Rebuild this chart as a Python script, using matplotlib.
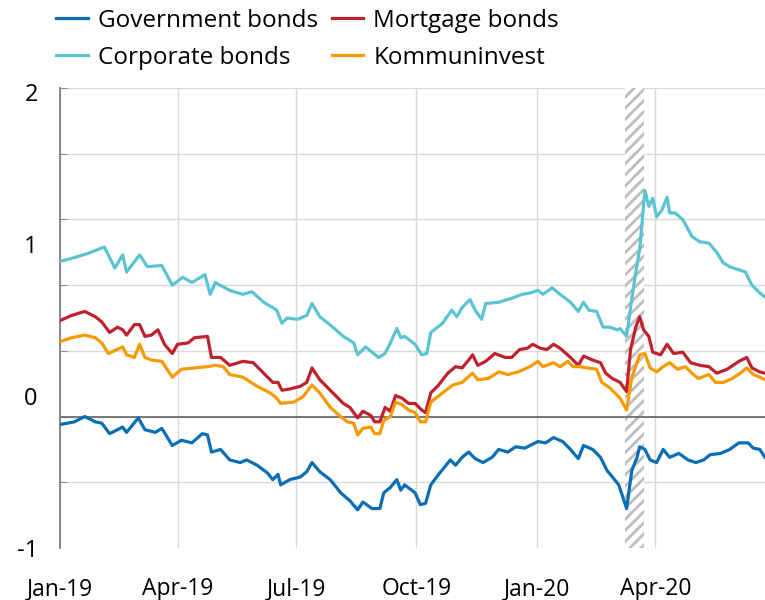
import matplotlib
matplotlib.use('Agg')
import matplotlib.pyplot as plt
import pandas as pd

START = pd.Timestamp('2019-01-01')

# days since 1 Jan 2019 and spread (percentage points)
gov_days = [0, 6, 11, 19, 27, 32, 38, 48, 51, 60, 65, 73, 78, 86, 93, 101, 109, 113, 116, 123,
            130, 138, 143, 151, 159, 163, 167, 169, 176, 184, 189, 193, 199, 207, 215, 222, 228,
            232, 239, 245, 248, 253, 258, 261, 264, 272, 276, 280, 284, 290, 299, 303, 308, 313,
            318, 324, 331, 336, 343, 349, 356, 360, 366, 372, 378, 385, 391, 397, 401, 408, 414,
            419, 424, 428, 431, 434, 438, 442, 444, 448, 452, 457, 462, 467, 474, 481, 487, 493,
            498, 506, 513, 520, 527, 531, 536, 540]
gov_vals = [-0.06, -0.05, -0.04, 0.00, -0.04, -0.05, -0.13, -0.08, -0.12, -0.01, -0.10, -0.12,
            -0.09, -0.22, -0.18, -0.20, -0.13, -0.14, -0.27, -0.25, -0.33, -0.35, -0.33, -0.37,
            -0.43, -0.48, -0.44, -0.52, -0.48, -0.46, -0.42, -0.35, -0.42, -0.48, -0.58, -0.64,
            -0.71, -0.65, -0.70, -0.70, -0.58, -0.54, -0.48, -0.56, -0.52, -0.58, -0.67, -0.66,
            -0.52, -0.44, -0.33, -0.37, -0.31, -0.27, -0.32, -0.35, -0.31, -0.25, -0.27, -0.23,
            -0.24, -0.22, -0.19, -0.20, -0.16, -0.19, -0.25, -0.32, -0.22, -0.25, -0.31, -0.41,
            -0.47, -0.52, -0.61, -0.70, -0.41, -0.31, -0.23, -0.25, -0.33, -0.35, -0.25, -0.31,
            -0.28, -0.33, -0.35, -0.33, -0.29, -0.28, -0.25, -0.20, -0.20, -0.24, -0.25, -0.31]

mort_days = [0, 9, 19, 27, 32, 38, 44, 48, 51, 57, 61, 65, 70, 75, 80, 86, 90, 98, 103, 113,
             116, 123, 130, 140, 148, 153, 159, 163, 167, 170, 176, 184, 189, 193, 199, 205, 212,
             217, 222, 228, 232, 238, 241, 245, 249, 253, 257, 262, 267, 272, 277, 280, 284, 290,
             297, 303, 308, 313, 316, 320, 326, 333, 341, 346, 352, 358, 362, 368, 373, 378, 383,
             391, 397, 401, 408, 414, 418, 423, 429, 434, 437, 441, 444, 447, 451, 454, 460, 465,
             470, 477, 483, 490, 497, 503, 511, 520, 526, 530, 536, 540]
mort_vals = [0.73, 0.77, 0.80, 0.76, 0.72, 0.64, 0.68, 0.66, 0.62, 0.70, 0.70, 0.61, 0.62, 0.66,
             0.55, 0.48, 0.55, 0.56, 0.60, 0.61, 0.45, 0.45, 0.39, 0.42, 0.41, 0.36, 0.30, 0.26,
             0.26, 0.20, 0.21, 0.23, 0.26, 0.37, 0.28, 0.22, 0.15, 0.10, 0.07, -0.01, 0.04, 0.01,
             -0.04, -0.04, 0.07, 0.04, 0.16, 0.14, 0.10, 0.10, 0.05, 0.03, 0.18, 0.24, 0.33, 0.38,
             0.37, 0.43, 0.47, 0.39, 0.42, 0.48, 0.45, 0.45, 0.51, 0.52, 0.55, 0.52, 0.51, 0.55,
             0.52, 0.45, 0.39, 0.46, 0.43, 0.41, 0.33, 0.29, 0.26, 0.19, 0.51, 0.68, 0.76, 0.66,
             0.61, 0.49, 0.47, 0.55, 0.48, 0.49, 0.41, 0.39, 0.38, 0.33, 0.36, 0.42, 0.45, 0.37,
             0.34, 0.33]

corp_days = [0, 11, 21, 34, 42, 48, 51, 61, 67, 78, 86, 94, 101, 111, 115, 119, 130, 140, 147,
             156, 166, 170, 174, 182, 189, 193, 199, 209, 217, 225, 228, 234, 244, 249, 254, 258,
             261, 264, 272, 277, 281, 284, 293, 300, 304, 308, 314, 318, 323, 326, 336, 346, 354,
             360, 366, 370, 377, 383, 391, 397, 401, 405, 411, 416, 421, 427, 429, 434, 437, 441,
             444, 448, 451, 454, 457, 461, 465, 467, 471, 477, 484, 490, 497, 503, 508, 513, 519,
             525, 530, 536, 540]
corp_vals = [1.18, 1.21, 1.24, 1.29, 1.13, 1.23, 1.10, 1.23, 1.14, 1.15, 1.00, 1.06, 1.02, 1.08,
             0.93, 1.02, 0.96, 0.93, 0.95, 0.87, 0.81, 0.71, 0.75, 0.74, 0.77, 0.86, 0.76, 0.68,
             0.61, 0.56, 0.47, 0.53, 0.45, 0.48, 0.58, 0.67, 0.60, 0.61, 0.55, 0.47, 0.48, 0.64,
             0.71, 0.81, 0.76, 0.83, 0.89, 0.81, 0.74, 0.86, 0.87, 0.90, 0.93, 0.94, 0.96, 0.93,
             0.98, 0.93, 0.87, 0.80, 0.87, 0.81, 0.80, 0.68, 0.68, 0.66, 0.67, 0.61, 0.83, 1.10,
             1.27, 1.72, 1.60, 1.66, 1.52, 1.57, 1.67, 1.55, 1.55, 1.50, 1.37, 1.33, 1.32, 1.25,
             1.17, 1.14, 1.12, 1.10, 1.00, 0.94, 0.91]

komm_days = [0, 9, 19, 27, 32, 37, 48, 51, 57, 61, 65, 70, 78, 86, 93, 103, 113, 119, 125, 130,
             140, 151, 161, 166, 169, 179, 186, 193, 199, 207, 215, 220, 225, 228, 232, 238, 241,
             245, 248, 253, 257, 262, 267, 272, 276, 280, 284, 293, 301, 308, 316, 320, 328, 336,
             343, 351, 360, 366, 370, 378, 383, 389, 393, 398, 404, 411, 415, 421, 429, 434, 438,
             442, 444, 448, 452, 457, 462, 467, 473, 479, 484, 489, 497, 502, 508, 515, 521, 526,
             531, 536, 540]
komm_vals = [0.57, 0.60, 0.62, 0.60, 0.56, 0.48, 0.53, 0.47, 0.45, 0.55, 0.45, 0.43, 0.42, 0.30,
             0.36, 0.37, 0.38, 0.39, 0.38, 0.32, 0.30, 0.23, 0.18, 0.14, 0.10, 0.11, 0.15, 0.24,
             0.18, 0.07, 0.00, -0.04, -0.05, -0.14, -0.09, -0.08, -0.13, -0.13, -0.03, 0.00, 0.11,
             0.09, 0.05, 0.03, -0.04, -0.04, 0.11, 0.18, 0.24, 0.26, 0.33, 0.28, 0.29, 0.34, 0.32,
             0.34, 0.38, 0.42, 0.38, 0.41, 0.38, 0.42, 0.38, 0.38, 0.37, 0.36, 0.26, 0.22, 0.14,
             0.05, 0.30, 0.41, 0.47, 0.48, 0.37, 0.34, 0.38, 0.41, 0.36, 0.38, 0.33, 0.29, 0.32,
             0.26, 0.26, 0.29, 0.33, 0.37, 0.32, 0.30, 0.28]

labels = ['Government bonds', 'Mortgage bonds', 'Corporate bonds', 'Kommuninvest']
colors = ['#0A6EB4', '#C0212F', '#5CC3D2', '#F59B00']

shade_start, shade_end = pd.Timestamp('2020-03-09'), pd.Timestamp('2020-03-23')
quarter_ticks = pd.date_range('2019-01-01', '2020-04-01', freq='QS')
ytext_pos = [-1.0, 0.155, 1.31, 2.47]
ytext_lbl = ['-1', '0', '1', '2']


def to_dates(days):
    return START + pd.to_timedelta(days, unit='D')


plt.rcParams['font.family'] = ['Open Sans', 'DejaVu Sans']
plt.rcParams['hatch.linewidth'] = 2.0
plt.rcParams['hatch.color'] = '#bdbdbd'

fig = plt.figure(figsize=(7.65, 6.0), dpi=100)
ax = fig.add_axes([60 / 765, 52 / 600, 705 / 765, 460 / 600])

ax.axvspan(shade_start, shade_end, facecolor='white', edgecolor='#bdbdbd',
           hatch='///', linewidth=0, zorder=1)

series = [(gov_days, gov_vals), (mort_days, mort_vals), (corp_days, corp_vals),
          (komm_days, komm_vals)]
lines = []
for (d, v), lab, c in zip(series, labels, colors):
    ln, = ax.plot(to_dates(d), v, color=c, linewidth=2.3, label=lab, zorder=3,
                  solid_joinstyle='round')
    lines.append(ln)

ax.set_xlim(START, START + pd.Timedelta(days=540))
ax.set_ylim(-1, 2.5)

# gridlines every 0.5, labels sit on their own positions
ax.set_yticks([-1, -0.5, 0, 0.5, 1, 1.5, 2, 2.5], minor=True)
ax.set_yticks(ytext_pos)
ax.set_yticklabels(ytext_lbl, fontsize=17)
ax.tick_params(axis='y', which='major', length=0, pad=16)
ax.tick_params(axis='y', which='minor', length=5, direction='in', color='#808080')
ax.grid(axis='y', which='minor', color='#d9d9d9', linewidth=1)
ax.axhline(0, color='#6e6e6e', linewidth=1.3, zorder=2)

ax.set_xticks(quarter_ticks)
ax.set_xticklabels([t.strftime('%b-%y') for t in quarter_ticks], fontsize=16.5)
ax.tick_params(axis='x', length=0, pad=21)
ax.grid(axis='x', color='#d9d9d9', linewidth=1)
ax.set_axisbelow(True)

for s in ['top', 'right', 'bottom']:
    ax.spines[s].set_visible(False)
ax.spines['left'].set_color('#808080')
ax.spines['left'].set_linewidth(1.3)

# legend fills column-wise, so order handles to get Government/Mortgage on the first row
order = [0, 2, 1, 3]
fig.legend(handles=[lines[i] for i in order], loc='upper left',
           bbox_to_anchor=(56 / 765, 1 - 9 / 600), ncol=2, frameon=False, fontsize=17.5,
           handlelength=1.3, handletextpad=0.41, columnspacing=0.58, labelspacing=0.53,
           borderaxespad=0, borderpad=0)

fig.savefig('out.png', dpi=100)
